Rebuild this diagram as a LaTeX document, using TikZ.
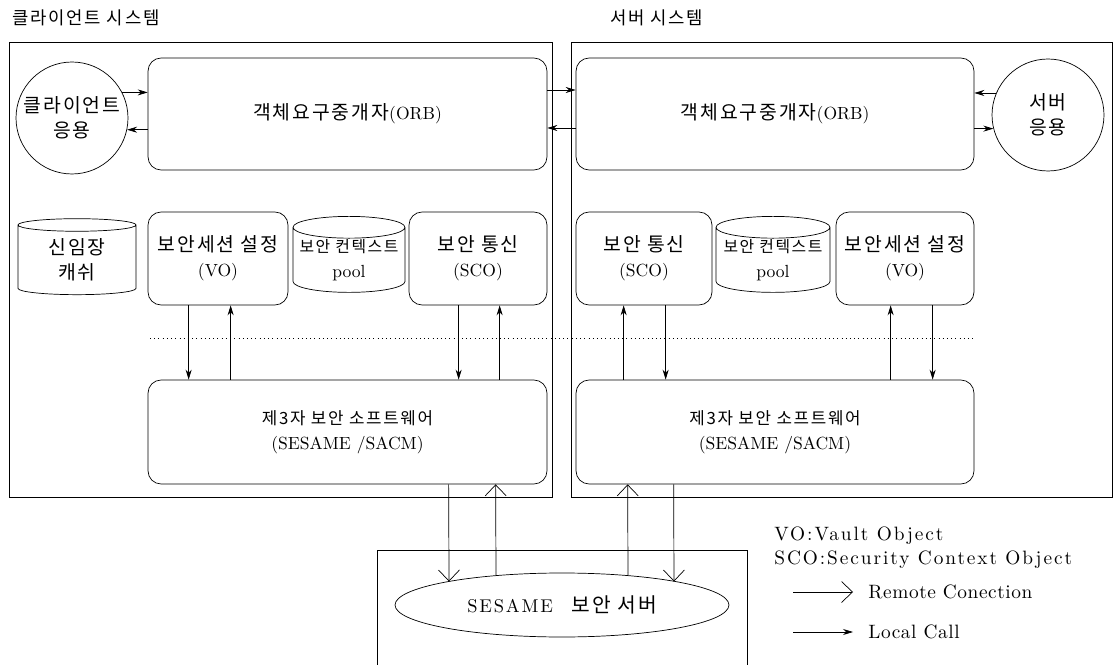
\documentclass[tikz,border=0pt]{standalone}
\usepackage{fontspec}
\newfontfamily\kr{Noto Sans CJK KR}[Scale=1.1, LetterSpace=10]
\newfontfamily\keyfont{Latin Modern Roman}[LetterSpace=10]
\newfontfamily\linefont{Latin Modern Roman}[LetterSpace=3]
\usetikzlibrary{positioning, arrows.meta, shapes.geometric}

\begin{document}
\begin{tikzpicture}[
    x=0.02cm, y=-0.02cm,
    font=\fontsize{10}{14}\selectfont,
    sysbox/.style={
        draw,
        rectangle,
        inner sep=0pt
    },
    roundbox/.style={
        draw,
        rectangle,
        rounded corners=2.6mm,
        align=center,
        inner sep=0pt
    },
    appcircle/.style={
        draw,
        circle,
        minimum size=2.24cm,
        align=center,
        inner sep=0pt,
        font=\fontsize{10}{14}\selectfont\kr
    },
    store/.style={
        draw,
        cylinder,
        shape border rotate=90,
        aspect=0.22,
        minimum height=1.52cm,
        align=center,
        inner sep=0pt
    },
    localarr/.style={
        -{Stealth[length=2mm, width=1.2mm]}
    },
    remotearr/.style={
        -{Straight Barb[length=2.2mm, width=4.2mm]}
    },
    keytext/.style={
        anchor=west,
        inner sep=0pt,
        font=\fontsize{11}{13}\selectfont\keyfont
    },
    linetext/.style={
        anchor=west,
        inner sep=0pt,
        font=\fontsize{11}{13}\selectfont\linefont
    }
]
\useasboundingbox (0,0) rectangle (1115,665);

% Systems

\node[sysbox, minimum width=10.86cm, minimum height=9.1cm] (clientsys) at (280.5,269.5) {};
\node[sysbox, minimum width=10.82cm, minimum height=9.1cm] (serversys) at (841.5,269.5) {};

\node[anchor=west, font=\fontsize{9.2}{12}\selectfont\kr] (clienttitle) at (6,18) {클라이언트 시스템};
\node[anchor=west, font=\fontsize{9.2}{12}\selectfont\kr] (servertitle) at (604,18) {서버 시스템};

% ORB row

\node[roundbox, minimum width=7.98cm, minimum height=2.24cm] (orb1) at (347.5,114) {{\kr 객체요구중개자}(ORB)};
\node[roundbox, minimum width=7.96cm, minimum height=2.24cm] (orb2) at (775,114) {{\kr 객체요구중개자}(ORB)};

\node[appcircle] (capp) at (72,118) {클라이언트\\응용};
\node[appcircle] (sapp) at (1048,115) {서버\\응용};

% Security row

\node[store, minimum width=2.36cm, font=\fontsize{10}{14}\selectfont\kr] (cache) at (77,260) {신임장\\캐쉬};
\node[roundbox, minimum width=2.8cm, minimum height=1.86cm] (vo1) at (218,258.5) {{\kr 보안세션 설정}\\(VO)};
\node[store, minimum width=2.24cm] (pool1) at (349,260) {{\fontsize{8.2}{12}\selectfont\kr 보안 컨텍스트}\\pool};
\node[roundbox, minimum width=2.76cm, minimum height=1.86cm] (sco1) at (478,258.5) {{\kr 보안 통신}\\(SCO)};

\node[roundbox, minimum width=2.72cm, minimum height=1.86cm] (sco2) at (644,258.5) {{\kr 보안 통신}\\(SCO)};
\node[store, minimum width=2.28cm] (pool2) at (773,260) {{\fontsize{8.2}{12}\selectfont\kr 보안 컨텍스트}\\pool};
\node[roundbox, minimum width=2.76cm, minimum height=1.86cm] (vo2) at (905,258.5) {{\kr 보안세션 설정}\\(VO)};

\coordinate (dotl) at (150,338);
\coordinate (dotr) at (974,338);
\draw[dotted] (dotl) -- (dotr);

% Third party software

\node[roundbox, minimum width=7.98cm, minimum height=2.08cm] (sw1) at (347.5,432) {{\fontsize{8.7}{12}\selectfont\kr 제3자 보안 소프트웨어}\\(SESAME /SACM)};
\node[roundbox, minimum width=7.96cm, minimum height=2.08cm] (sw2) at (775,432) {{\fontsize{8.7}{12}\selectfont\kr 제3자 보안 소프트웨어}\\(SESAME /SACM)};

% Security server

\node[sysbox, minimum width=7.4cm, minimum height=2.8cm] (sesamebox) at (562,620) {};
\node[draw, ellipse, minimum width=6.68cm, minimum height=1.28cm, font=\fontsize{10.5}{13}\selectfont\keyfont] (sesame) at (562,605) {SESAME\quad{\kr 보안 서버}};

% Legend

\node[keytext] (vokey) at (774,536) {VO:Vault Object};
\node[keytext, anchor=north west] (scokey) at ([yshift=-0.1cm]vokey.south west) {SCO:Security Context Object};
\node[linetext] (remotekey) at (868,592) {Remote Conection};
\node[linetext] (localkey) at (868,632) {Local Call};
\coordinate[left=0.3cm of remotekey] (remoteend);
\coordinate[left=0.3cm of localkey] (localend);

% Arrows

\draw[localarr] (capp.27) -- (capp.27 -| orb1.west);
\draw[localarr] (orb1.west |- capp.-12) -- (capp.-12);
\draw[localarr] (sapp.157) -- (sapp.157 -| orb2.east);
\draw[localarr] (orb2.east |- sapp.194) -- (sapp.194);

\draw[localarr] ([yshift=0.48cm]orb1.east) -- ([yshift=0.48cm]orb2.west);
\draw[localarr] ([yshift=-0.28cm]orb2.west) -- ([yshift=-0.28cm]orb1.east);

\draw[localarr] ([xshift=0.82cm]vo1.south west) -- ([xshift=0.82cm]vo1.south west |- sw1.north);
\draw[localarr] ([xshift=1.66cm]vo1.south west |- sw1.north) -- ([xshift=1.66cm]vo1.south west);
\draw[localarr] ([xshift=1.0cm]sco1.south west) -- ([xshift=1.0cm]sco1.south west |- sw1.north);
\draw[localarr] ([xshift=1.82cm]sco1.south west |- sw1.north) -- ([xshift=1.82cm]sco1.south west);

\draw[localarr] ([xshift=0.96cm]sco2.south west |- sw2.north) -- ([xshift=0.96cm]sco2.south west);
\draw[localarr] ([xshift=1.8cm]sco2.south west) -- ([xshift=1.8cm]sco2.south west |- sw2.north);
\draw[localarr] ([xshift=1.1cm]vo2.south west |- sw2.north) -- ([xshift=1.1cm]vo2.south west);
\draw[localarr] ([xshift=1.94cm]vo2.south west) -- ([xshift=1.94cm]vo2.south west |- sw2.north);

\draw[remotearr] ([xshift=6.02cm]sw1.south west) -- ([xshift=-2.26cm, yshift=0.47cm]sesame.center);
\draw[remotearr] ([xshift=-1.32cm, yshift=0.59cm]sesame.center) -- ([xshift=6.96cm]sw1.south west);
\draw[remotearr] ([xshift=1.32cm, yshift=0.59cm]sesame.center) -- ([xshift=1.04cm]sw2.south west);
\draw[remotearr] ([xshift=1.96cm]sw2.south west) -- ([xshift=2.24cm, yshift=0.47cm]sesame.center);

\draw[remotearr] ([xshift=-1.2cm]remoteend) -- (remoteend);
\draw[localarr] ([xshift=-1.2cm]localend) -- (localend);

\end{tikzpicture}
\end{document}
